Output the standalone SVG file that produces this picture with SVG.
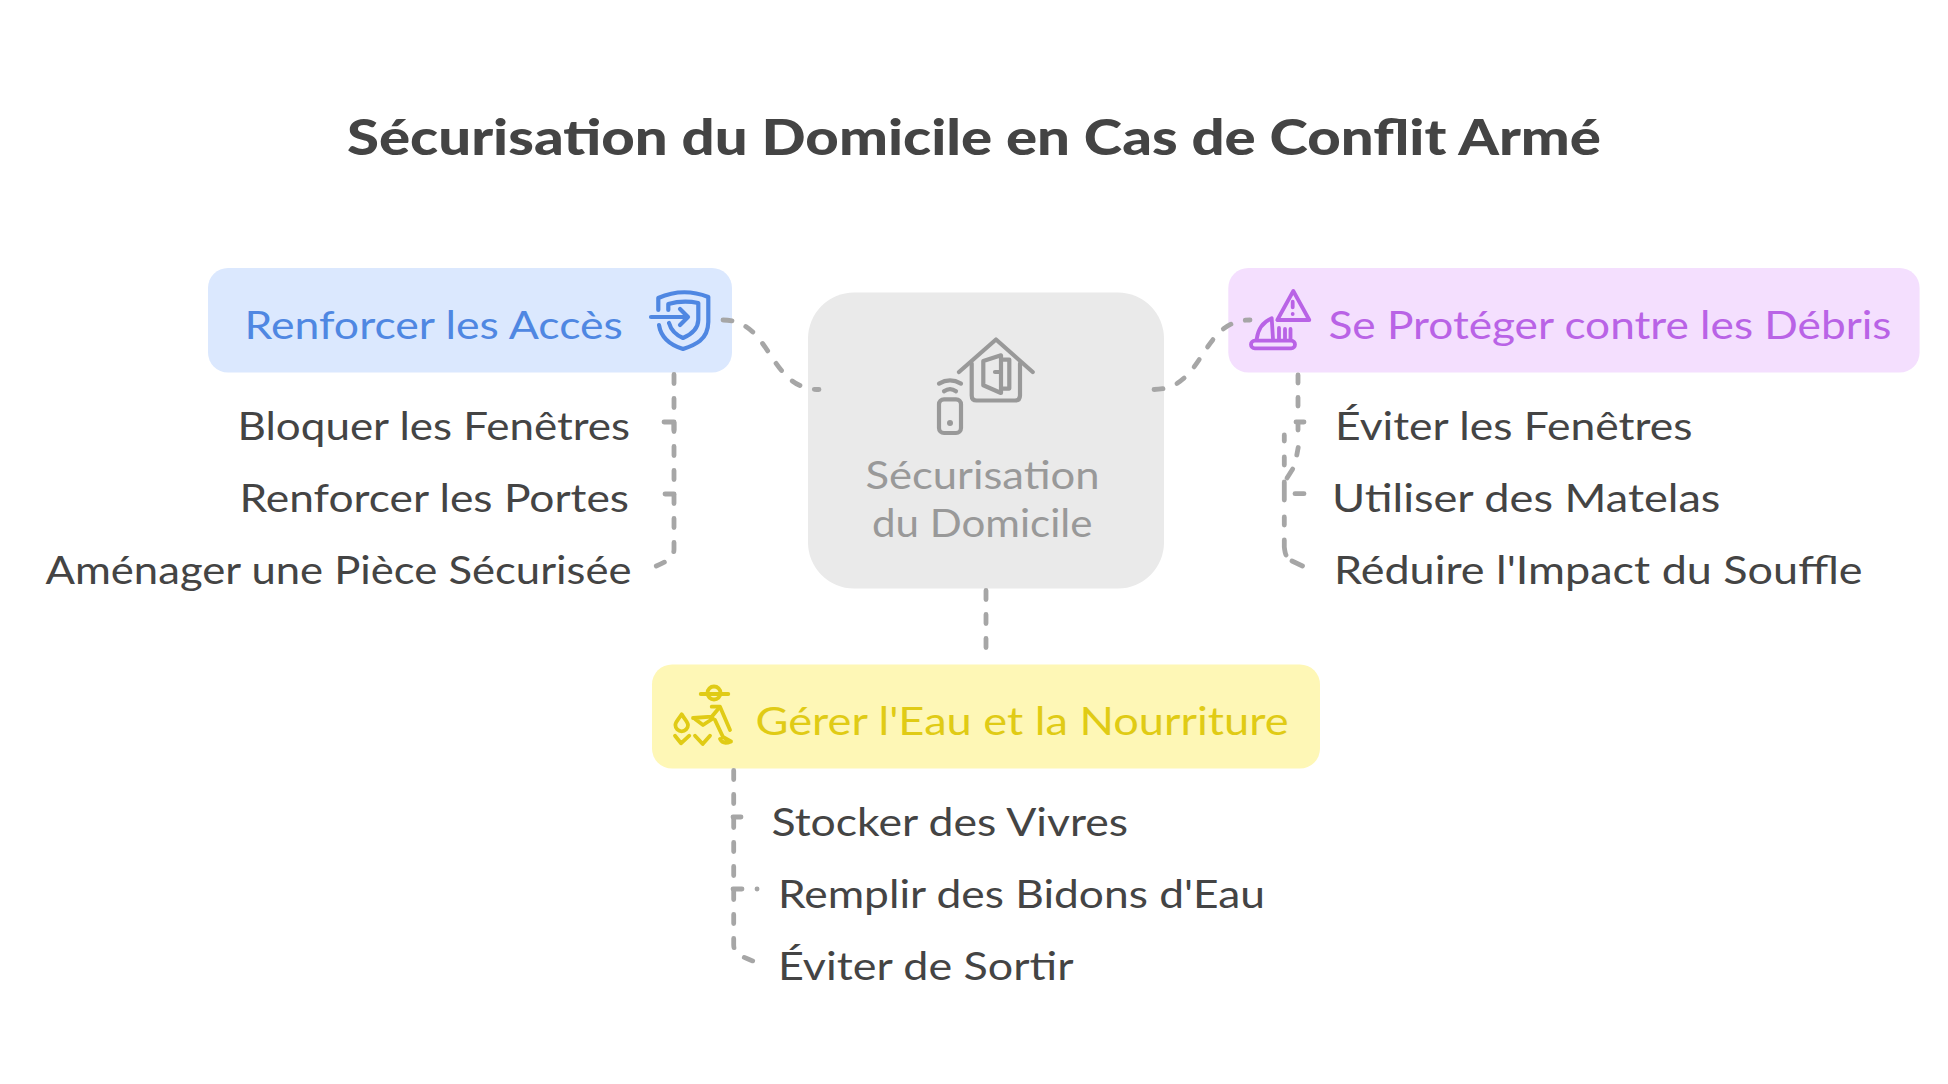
<svg xmlns="http://www.w3.org/2000/svg" width="1948" height="1084" viewBox="0 0 1948 1084">
<style>
text{font-family:"Lato","Liberation Sans",sans-serif;font-size:39px;fill:#444444}
.title{font-size:49px;font-weight:900}
.conn{fill:none;stroke:#a6a6a6;stroke-width:4.8;stroke-linecap:round;stroke-linejoin:round}
.dash{stroke-dasharray:9 15}
.ic{fill:none;stroke-width:4.2;stroke-linecap:round;stroke-linejoin:round}
.thin{stroke-width:3.8}
.blue{stroke:#4f87e2}.purple{stroke:#b963e6}.yellow{stroke:#e0cb15}.grey{stroke:#999999}
</style>
<rect width="1948" height="1084" fill="#ffffff"/>
<text id="title" class="title" x="347" y="155" textLength="1254" lengthAdjust="spacingAndGlyphs">Sécurisation du Domicile en Cas de Conflit Armé</text>
<g id="node-center">
<rect x="808" y="292.5" width="356" height="296" rx="46" fill="#eaeaea"/>
<g class="ic grey">
<path d="M959 372L996 339.5L1032.7 372"/>
<path d="M971.7 363.5V395.5q0 5 5 5H1015q5 0 5-5V363.5"/>
<path d="M983.3 361L1001 355.3V393L983.3 385.3Z"/>
<path d="M1001.7 359.6H1009.3V388.6H1001.7M995 372H1000"/>
<rect x="939" y="399.3" width="22" height="33.7" rx="5"/>
<path d="M939 383.6Q950 377.3 961 383.6M944 391.3Q950 387 956 391.3"/>
</g>
<circle cx="950" cy="423" r="3" fill="#999999"/>
<text x="865.5" y="488.5" textLength="234" lengthAdjust="spacingAndGlyphs" style="fill:#999999">Sécurisation</text>
<text x="872" y="536.5" textLength="220.4" lengthAdjust="spacingAndGlyphs" style="fill:#999999">du Domicile</text>
</g>
<g id="node-acces">
<rect x="208" y="268" width="524" height="104.5" rx="20" fill="#dbe8fe"/>
<text x="244.5" y="338.5" textLength="378.4" lengthAdjust="spacingAndGlyphs" style="fill:#4f87e2">Renforcer les Accès</text>
<g class="ic blue">
<path d="M651 317H688M680 309L688 317L680 325"/>
<path d="M658.3 310V298Q683 287 708.3 297V322C708 340 695 345 683 349C670 345 661 338 659 325"/>
<path d="M668.3 310V304Q683 300 698.3 303V320C698 330 690 335 683 338C676 335 671 330 669 323"/>
</g>
</g>
<g id="node-debris">
<rect x="1228.3" y="268" width="691.3" height="104.5" rx="20" fill="#f4dffe"/>
<text x="1328.5" y="338.5" textLength="563" lengthAdjust="spacingAndGlyphs" style="fill:#b963e6">Se Protéger contre les Débris</text>
<g class="ic thin purple">
<path d="M1293.3 291L1277.3 320H1309.3Z"/>
<path d="M1292.7 301.7V307.3M1292.7 314V314.1"/>
<rect x="1251" y="340.7" width="44" height="7.6" rx="3.8"/>
<path d="M1256.7 339.3C1258 328 1263 322 1271.7 318.3L1273 339M1279 328V339M1285 329V339M1290.5 329V340"/>
</g>
</g>
<g id="node-eau">
<rect x="652" y="664.5" width="668" height="104" rx="20" fill="#fef7b6"/>
<text x="755.5" y="734.5" textLength="533" lengthAdjust="spacingAndGlyphs" style="fill:#e0cb15">Gérer l'Eau et la Nourriture</text>
<g class="ic thin yellow">
<path d="M700.7 694H728.3"/>
<circle cx="714" cy="693" r="6.5"/>
<path d="M711.7 706.7H720L730 730"/>
<path d="M693 718L711.7 716.7L719 708M695 719L703 725L713 718.5"/>
<path d="M715 720L723 737L731 741.5M720 739Q723 745 731 741.5"/>
<path d="M681.7 714.3C685 720 688 722 688 725A6.3 6.3 0 0 1 675.4 725C675.4 722 678 720 681.7 714.3Z"/>
<path d="M675 735.7L681 743.3L689.3 735.7M695 735.7L702.7 744L710 735.7"/>
</g>
</g>
<g id="item-bloquer"><text x="237.5" y="439.5" textLength="392.6" lengthAdjust="spacingAndGlyphs">Bloquer les Fenêtres</text></g>
<g id="item-portes"><text x="239.5" y="511.5" textLength="389.5" lengthAdjust="spacingAndGlyphs">Renforcer les Portes</text></g>
<g id="item-piece"><text x="45.5" y="583.5" textLength="586" lengthAdjust="spacingAndGlyphs">Aménager une Pièce Sécurisée</text></g>
<g id="item-eviter-fen"><text x="1335" y="439.5" textLength="357.5" lengthAdjust="spacingAndGlyphs">Éviter les Fenêtres</text></g>
<g id="item-matelas"><text x="1332" y="512" textLength="388.4" lengthAdjust="spacingAndGlyphs">Utiliser des Matelas</text></g>
<g id="item-souffle"><text x="1334" y="583.5" textLength="528.5" lengthAdjust="spacingAndGlyphs">Réduire l'Impact du Souffle</text></g>
<g id="item-vivres"><text x="771.5" y="835.5" textLength="356.6" lengthAdjust="spacingAndGlyphs">Stocker des Vivres</text></g>
<g id="item-bidons"><text x="778" y="907.5" textLength="487" lengthAdjust="spacingAndGlyphs">Remplir des Bidons d'Eau</text></g>
<g id="item-sortir"><text x="778" y="979.5" textLength="295.5" lengthAdjust="spacingAndGlyphs">Éviter de Sortir</text></g>
<g id="connectors">
<path class="conn dash" d="M723 320C772 320 768 389.5 819 389.5"/>
<path class="conn dash" d="M1154 389.5C1205 389.5 1200 320 1250 320"/>
<path class="conn dash" d="M986 590.5V650"/>
<path class="conn dash" d="M674 374.5V549C674 558 668 561 654 567"/>
<path class="conn" d="M664 422H674V430"/>
<path class="conn dash" d="M674 494H650.9"/>
<path class="conn" d="M1298 375V383M1298 397.5V406M1296 422H1304M1298 422V430"/>
<path class="conn" d="M1298.2 447.5L1296.8 455M1292.7 469L1287 478"/>
<path class="conn" d="M1284.3 435V441M1284.3 457V465M1284.3 482V500M1284.3 517V525M1284.3 540V547C1285 553 1286 555 1286 555M1292 561L1302.5 566"/>
<path class="conn" d="M1295 493.7H1304"/>
<path class="conn dash" d="M733.7 770.5V945C734 952 737 955 753 961"/>
<path class="conn" d="M733 817H741"/>
<path class="conn dash" d="M733 889H757.1"/>
</g>
</svg>
